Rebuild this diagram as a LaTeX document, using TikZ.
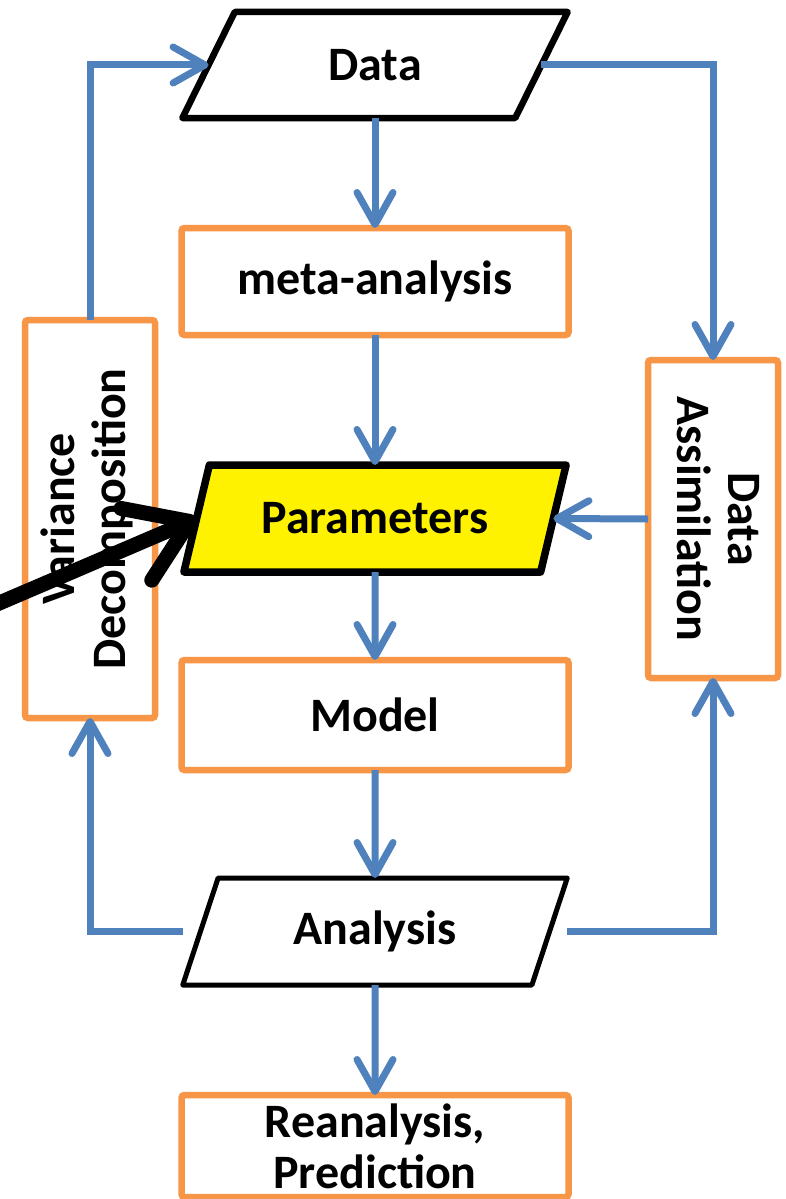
\documentclass[tikz,border=0pt]{standalone}
\usepackage{fontspec}
\setmainfont{Carlito}
\usetikzlibrary{arrows.meta,shapes.geometric,calc}
\definecolor{cblue}{HTML}{4F81BD}
\definecolor{corange}{HTML}{F79646}
\begin{document}
\begin{tikzpicture}[x=1pt,y=-1pt,
  every node/.style={font=\fontsize{48}{51}\selectfont\bfseries, inner sep=0pt, outer sep=0pt},
  obox/.style={draw=corange, line width=6.5pt, rounded corners=3pt, fill=white},
  para/.style={trapezium, trapezium stretches=true, draw=black, line width=6.5pt, line join=round, fill=white},
  conn/.style={draw=cblue, line width=7pt, -{Straight Barb[length=32pt,width=36pt,line cap=round,line join=round]}},
  bigarrow/.style={draw=black, line width=15pt, line cap=round, -{Straight Barb[length=58pt,width=78pt,line cap=round,line join=round]}},
]
\useasboundingbox (0,0) rectangle (786,1199);
\fill[white] (0,0) rectangle (786,1199);

\node[para, minimum width=386pt, minimum height=106pt, trapezium left angle=61, trapezium right angle=119] (data) at (375,65) {Data};
\node[obox, minimum width=387pt, minimum height=107pt] (meta) at (375,281.5) {meta-analysis};
\node[para, fill=yellow, line width=7.5pt, minimum width=383pt, minimum height=107pt, trapezium left angle=61, trapezium right angle=119] (par) at (375,518.5) {Parameters};
\node[obox, minimum width=387pt, minimum height=110pt] (model) at (375,715) {Model};
\node[para, line width=5pt, minimum width=385pt, minimum height=107pt, trapezium left angle=66, trapezium right angle=114] (ana) at (375,931.5) {Analysis};
\node[obox, minimum width=387pt, minimum height=102pt, align=center] (rean) at (375,1146) {Reanalysis,\\Prediction};
\node[obox, minimum width=130pt, minimum height=398pt] (var) at (90,519) {\rotatebox{90}{\begin{tabular}{@{}c@{}}Variance\\Decomposition\end{tabular}}};
\node[obox, minimum width=130pt, minimum height=318pt] (da) at (713,519) {\rotatebox{-90}{\begin{tabular}{@{}c@{}}Data\\Assimilation\end{tabular}}};

\draw[conn] (data) -- (meta);
\draw[conn] (meta) -- (par);
\draw[conn] (par) -- (model);
\draw[conn] (model) -- (ana);
\draw[conn] (ana) -- (rean);
\draw[conn] (var.north) |- (data.left side);
\draw[conn] (data.right side) -| (da.north);
\draw[conn] (da.west) -- (par.right side);
\draw[conn] (ana.bottom left corner |- ana.center) -| (var.south);
\draw[conn] (ana.top right corner |- ana.center) -| (da.south);

\coordinate (src) at (-10,607);
\draw[bigarrow] (src) -- (par.left side);
\end{tikzpicture}
\end{document}
